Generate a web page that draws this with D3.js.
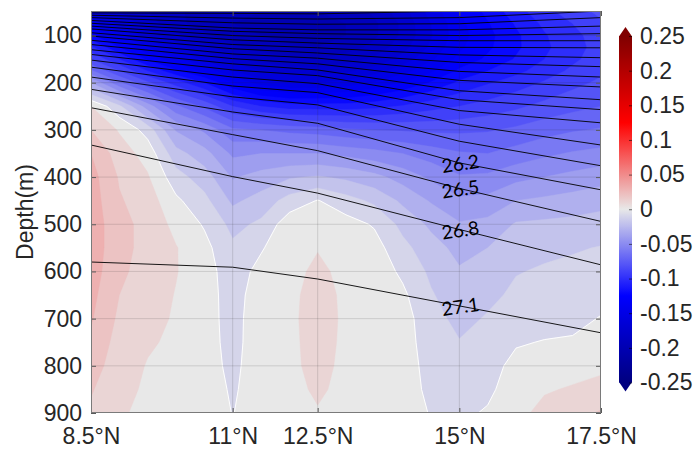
<!DOCTYPE html>
<html>
<head>
<meta charset="utf-8">
<script src="https://cdn.jsdelivr.net/npm/d3@7"></script>
<style>
  html, body { margin: 0; padding: 0; background: #fff; }
  svg { display: block; }
  text { font-family: "Liberation Sans", Arial, Helvetica, sans-serif; fill: #262626; }
</style>
</head>
<body>
<svg id="chart" width="695" height="452"></svg>
<script>
// ---- data -------------------------------------------------------------
// grid latitudes (°N) and depth levels (m)
const lats = [8.5, 9, 9.5, 10, 10.5, 11, 11.5, 12, 12.5, 13, 13.5, 14, 14.5, 15, 15.5, 16, 16.5, 17, 17.5];
const depths = [48, 75, 100, 125, 150, 175, 200, 250, 300, 350, 400, 450, 500, 550, 600, 650, 700, 750, 800, 850, 900];

// anomaly field: one row per depth level, one column per latitude
const anomaly = [
  [-0.150, -0.160, -0.170, -0.178, -0.185, -0.190, -0.190, -0.190, -0.190, -0.185, -0.178, -0.164, -0.146, -0.130, -0.117, -0.104, -0.093, -0.085, -0.077],
  [-0.138, -0.152, -0.165, -0.177, -0.185, -0.190, -0.192, -0.195, -0.195, -0.190, -0.182, -0.168, -0.150, -0.133, -0.121, -0.109, -0.098, -0.090, -0.082],
  [-0.118, -0.138, -0.155, -0.168, -0.178, -0.186, -0.190, -0.194, -0.195, -0.190, -0.182, -0.168, -0.151, -0.134, -0.123, -0.112, -0.101, -0.093, -0.085],
  [-0.098, -0.120, -0.140, -0.155, -0.167, -0.178, -0.184, -0.188, -0.190, -0.185, -0.177, -0.164, -0.148, -0.132, -0.122, -0.112, -0.102, -0.094, -0.086],
  [-0.080, -0.100, -0.122, -0.138, -0.152, -0.166, -0.174, -0.178, -0.180, -0.175, -0.168, -0.156, -0.142, -0.127, -0.118, -0.109, -0.100, -0.092, -0.085],
  [-0.058, -0.080, -0.100, -0.118, -0.133, -0.150, -0.160, -0.165, -0.166, -0.162, -0.155, -0.144, -0.132, -0.118, -0.110, -0.103, -0.095, -0.088, -0.082],
  [-0.030, -0.058, -0.078, -0.095, -0.110, -0.130, -0.145, -0.150, -0.150, -0.147, -0.139, -0.130, -0.119, -0.108, -0.101, -0.095, -0.089, -0.083, -0.078],
  [ 0.010, -0.008, -0.035, -0.058, -0.072, -0.090, -0.100, -0.105, -0.105, -0.105, -0.103, -0.099, -0.094, -0.090, -0.086, -0.082, -0.077, -0.073, -0.070],
  [ 0.020,  0.009, -0.004, -0.031, -0.042, -0.058, -0.060, -0.063, -0.065, -0.068, -0.070, -0.071, -0.072, -0.072, -0.071, -0.068, -0.064, -0.061, -0.059],
  [ 0.030,  0.015,  0.006, -0.016, -0.026, -0.042, -0.040, -0.040, -0.040, -0.043, -0.046, -0.050, -0.055, -0.059, -0.060, -0.056, -0.052, -0.049, -0.047],
  [ 0.034,  0.019,  0.011, -0.006, -0.015, -0.031, -0.026, -0.021, -0.019, -0.022, -0.027, -0.034, -0.042, -0.049, -0.048, -0.043, -0.040, -0.037, -0.034],
  [ 0.035,  0.021,  0.015,  0.002, -0.007, -0.022, -0.016, -0.006,  0.0005, -0.006, -0.012, -0.022, -0.031, -0.038, -0.037, -0.030, -0.028, -0.026, -0.024],
  [ 0.036,  0.023,  0.017,  0.007, -0.001, -0.013, -0.008,  0.006,  0.007,  0.004, -0.001, -0.013, -0.022, -0.029, -0.027, -0.019, -0.018, -0.017, -0.015],
  [ 0.036,  0.023,  0.017,  0.0105, 0.003, -0.008, -0.001,  0.007,  0.0095, 0.007,  0.004, -0.007, -0.016, -0.023, -0.020, -0.013, -0.012, -0.011, -0.0095],
  [ 0.035,  0.022,  0.016,  0.0105, 0.004, -0.005,  0.003,  0.007,  0.012,  0.0075, 0.006, -0.002, -0.012, -0.019, -0.016, -0.0105, -0.009, -0.0075, -0.006],
  [ 0.033,  0.020,  0.015,  0.0095, 0.004, -0.004,  0.005,  0.0075, 0.014,  0.008,  0.0065, 0.002, -0.009, -0.016, -0.0125, -0.008, -0.0065, -0.005, -0.003],
  [ 0.031,  0.018,  0.013,  0.009,  0.0043, -0.004, 0.0065, 0.0075, 0.015, 0.008,  0.0065, 0.004, -0.006, -0.013, -0.009, -0.006, -0.004, -0.0025, 0.0005],
  [ 0.028,  0.016,  0.011,  0.0085, 0.005, -0.004,  0.007,  0.007,  0.015,  0.0075, 0.0065, 0.004, -0.0045, -0.0095, -0.006, -0.001, 0.0005, 0.001,  0.004],
  [ 0.025,  0.014,  0.0095, 0.008,  0.0053, -0.003, 0.007,  0.007,  0.014,  0.007,  0.006,  0.004, -0.003, -0.007, -0.004,  0.003,  0.005,  0.006,  0.008],
  [ 0.021,  0.012,  0.009,  0.008,  0.006, -0.0015, 0.006,  0.006,  0.012,  0.0065, 0.0055, 0.004, -0.002, -0.004, -0.002,  0.005,  0.009,  0.011,  0.013],
  [ 0.018,  0.011,  0.008,  0.007,  0.006, -0.0003, 0.005,  0.005,  0.009,  0.006,  0.005,  0.004, -0.0005, -0.002, 0.001,  0.007,  0.013,  0.017,  0.021]
];

// potential density (isopycnal) depths (m) at section stations
const isoLats = [8.5, 11, 12.5, 15, 17.5];
const isoLevels = [21.4, 21.7, 22.0, 22.3, 22.6, 22.9, 23.2, 23.5, 23.8, 24.1, 24.4, 24.7, 25.0, 25.3, 25.6, 25.9, 26.2, 26.5, 26.8, 27.1];
const isoDepths = [
  [52, 53, 54, 48, 33],
  [57, 63, 65, 62, 48],
  [62, 73, 76, 75, 62],
  [68, 84, 88, 88, 80],
  [74, 91, 96, 100, 96],
  [80, 100, 106, 111, 111],
  [86, 109, 116, 125, 126],
  [94, 119, 126, 141, 147],
  [101, 128, 137, 157, 166],
  [110, 139, 148, 176, 188],
  [119, 149, 160, 195, 209],
  [130, 160, 173, 217, 236],
  [140, 173, 185, 236, 257],
  [152, 188, 202, 259, 285],
  [167, 207, 221, 288, 332],
  [188, 230, 247, 324, 376],
  [214, 262, 286, 370, 427],
  [253, 310, 344, 424, 494],
  [332, 399, 434, 511, 586],
  [580, 591, 616, 673, 730]
];
const labeledLevels = [26.2, 26.5, 26.8, 27.1];
const labelLat = 15;

// axis ticks
const xTicks = [8.5, 11, 12.5, 15, 17.5];
const xTickLabels = ["8.5°N", "11°N", "12.5°N", "15°N", "17.5°N"];
const yTicks = [100, 200, 300, 400, 500, 600, 700, 800, 900];
const cbTicks = [-0.25, -0.2, -0.15, -0.1, -0.05, 0, 0.05, 0.1, 0.15, 0.2, 0.25];
const cbTickLabels = ["-0.25", "-0.2", "-0.15", "-0.1", "-0.05", "0", "0.05", "0.1", "0.15", "0.2", "0.25"];

// ---- layout & scales ---------------------------------------------------
const plot = { left: 91, right: 601, top: 11, bottom: 413 };
const cbar = { x: 619, w: 13, top: 36, bottom: 382.5, tip: 9 };
const fontSize = 23;

const x = d3.scaleLinear().domain([8.5, 17.5]).range([plot.left, plot.right]);
const y = d3.scaleLinear().domain([48, 900]).range([plot.top, plot.bottom]);

// diverging colormap: navy - blue - light grey - red - dark red
const color = d3.scaleLinear()
  .domain([-0.25, -0.125, 0, 0.125, 0.25])
  .range(["#000080", "#0000ff", "#e8e8e8", "#ff0000", "#800000"])
  .interpolate(d3.interpolateRgb)
  .clamp(true);

const svg = d3.select("#chart");
const defs = svg.append("defs");
defs.append("clipPath").attr("id", "plotClip")
  .append("rect")
  .attr("x", plot.left).attr("y", plot.top)
  .attr("width", plot.right - plot.left).attr("height", plot.bottom - plot.top);

// ---- filled contours ---------------------------------------------------
const n = lats.length, m = depths.length;
const values = anomaly.flat();
const levels = d3.range(-25, 25).map(k => k / 100);

// grid index (cell centres at i + 0.5) -> latitude / depth
const gLat = d3.scaleLinear().domain(d3.range(n).map(i => i + 0.5)).range(lats);
const gDep = d3.scaleLinear().domain(d3.range(m).map(j => j + 0.5)).range(depths);
const toScreen = d3.geoTransform({
  point(px, py) { this.stream.point(x(gLat(px)), y(gDep(py))); }
});
const gridPath = d3.geoPath(toScreen);

const bands = d3.contours().size([n, m]).thresholds(levels)(values);

const plotG = svg.append("g").attr("clip-path", "url(#plotClip)");
plotG.append("rect")
  .attr("x", plot.left).attr("y", plot.top)
  .attr("width", plot.right - plot.left).attr("height", plot.bottom - plot.top)
  .attr("fill", color(d3.min(values)));

plotG.append("g")
  .selectAll("path")
  .data(bands.filter(b => b.coordinates.length))
  .join("path")
  .attr("d", gridPath)
  .attr("fill", d => color(d.value))
  .attr("fill-rule", "evenodd")
  .attr("stroke", d => color(d.value))
  .attr("stroke-width", 0.4);

// zero line
const zeroLine = d3.contours().size([n, m]).thresholds([0])(values);
plotG.append("g")
  .selectAll("path")
  .data(zeroLine)
  .join("path")
  .attr("d", gridPath)
  .attr("fill", "none")
  .attr("stroke", "#ffffff")
  .attr("stroke-width", 1)
  .attr("stroke-opacity", 0.95);

// ---- isopycnals --------------------------------------------------------
const line = d3.line().x(d => x(d[0])).y(d => y(d[1]));
plotG.append("g")
  .selectAll("path")
  .data(isoDepths.map(row => row.map((dep, i) => [isoLats[i], dep])))
  .join("path")
  .attr("d", line)
  .attr("fill", "none")
  .attr("stroke", "#000")
  .attr("stroke-width", 0.9);

const labelIdx = isoLats.indexOf(labelLat);
plotG.append("g")
  .selectAll("text")
  .data(labeledLevels)
  .join("text")
  .attr("transform", lev => {
    const row = isoDepths[isoLevels.indexOf(lev)];
    return `translate(${x(labelLat) + 1},${y(row[labelIdx])}) rotate(-8)`;
  })
  .attr("text-anchor", "middle")
  .attr("dominant-baseline", "central")
  .style("font-family", "Lato, 'Open Sans', sans-serif")
  .style("font-size", "19px")
  .style("fill", "#000")
  .text(d => d.toFixed(1));

// ---- grid, box and axes ------------------------------------------------
const gridColor = "rgba(38,38,38,0.15)";
const gridG = svg.append("g");
gridG.selectAll("line.vx")
  .data(xTicks.filter(t => t > 8.5 && t < 17.5))
  .join("line")
  .attr("x1", d => x(d)).attr("x2", d => x(d))
  .attr("y1", plot.top).attr("y2", plot.bottom)
  .attr("stroke", gridColor);
gridG.selectAll("line.hy")
  .data(yTicks.filter(t => t < 900))
  .join("line")
  .attr("x1", plot.left).attr("x2", plot.right)
  .attr("y1", d => y(d)).attr("y2", d => y(d))
  .attr("stroke", gridColor);

const axisColor = "#5a5a5a";
function styleAxis(g, showText) {
  g.select(".domain").remove();
  g.selectAll(".tick line").attr("stroke", axisColor);
  g.selectAll(".tick text")
    .style("font-size", fontSize + "px")
    .style("fill", "#262626")
    .attr("display", showText ? null : "none");
}

svg.append("g")
  .attr("transform", `translate(0,${plot.bottom})`)
  .call(d3.axisBottom(x).tickValues(xTicks).tickFormat((d, i) => xTickLabels[i])
    .tickSizeInner(-5).tickSizeOuter(0).tickPadding(15))
  .call(g => styleAxis(g, true));
svg.append("g")
  .attr("transform", `translate(0,${plot.top})`)
  .call(d3.axisTop(x).tickValues(xTicks).tickSizeInner(-5).tickSizeOuter(0))
  .call(g => styleAxis(g, false));
svg.append("g")
  .attr("transform", `translate(${plot.left},0)`)
  .call(d3.axisLeft(y).tickValues(yTicks).tickFormat(d3.format("d"))
    .tickSizeInner(-5).tickSizeOuter(0).tickPadding(9))
  .call(g => styleAxis(g, true));
svg.append("g")
  .attr("transform", `translate(${plot.right},0)`)
  .call(d3.axisRight(y).tickValues(yTicks).tickSizeInner(-5).tickSizeOuter(0))
  .call(g => styleAxis(g, false));

svg.append("rect")
  .attr("x", plot.left + 0.5).attr("y", plot.top + 0.5)
  .attr("width", plot.right - plot.left - 1).attr("height", plot.bottom - plot.top - 1)
  .attr("fill", "none").attr("stroke", "#7a7a7a").attr("stroke-width", 1);

svg.append("text")
  .attr("transform", `translate(33,${(plot.top + plot.bottom) / 2}) rotate(-90)`)
  .attr("text-anchor", "middle")
  .style("font-size", fontSize + "px")
  .text("Depth(m)");

// ---- colorbar ----------------------------------------------------------
const cb = d3.scaleLinear().domain([-0.25, 0.25]).range([cbar.bottom, cbar.top]);
const grad = defs.append("linearGradient").attr("id", "cbGrad")
  .attr("x1", 0).attr("y1", 1).attr("x2", 0).attr("y2", 0);
grad.selectAll("stop")
  .data(d3.range(0, 101).map(k => -0.25 + k * 0.005))
  .join("stop")
  .attr("offset", v => (v + 0.25) / 0.5)
  .attr("stop-color", v => color(v));

const cbG = svg.append("g");
cbG.append("rect")
  .attr("x", cbar.x).attr("y", cb(0.25))
  .attr("width", cbar.w).attr("height", cb(-0.25) - cb(0.25))
  .attr("fill", "url(#cbGrad)");
const cx = cbar.x + cbar.w / 2;
cbG.append("path")
  .attr("d", `M${cbar.x},${cb(0.25) + 0.5}L${cx},${cb(0.25) - cbar.tip}L${cbar.x + cbar.w},${cb(0.25) + 0.5}Z`)
  .attr("fill", color(0.25));
cbG.append("path")
  .attr("d", `M${cbar.x},${cb(-0.25) - 0.5}L${cx},${cb(-0.25) + cbar.tip}L${cbar.x + cbar.w},${cb(-0.25) - 0.5}Z`)
  .attr("fill", color(-0.25));

svg.append("g")
  .attr("transform", `translate(${cbar.x + cbar.w},0)`)
  .call(d3.axisRight(cb).tickValues(cbTicks).tickFormat((d, i) => cbTickLabels[i])
    .tickSizeInner(-3).tickSizeOuter(0).tickPadding(8))
  .call(g => {
    g.select(".domain").remove();
    g.selectAll(".tick line").attr("stroke", "rgba(0,0,0,0.55)");
    g.selectAll(".tick text").style("font-size", fontSize + "px").style("fill", "#262626");
  });
</script>
</body>
</html>
